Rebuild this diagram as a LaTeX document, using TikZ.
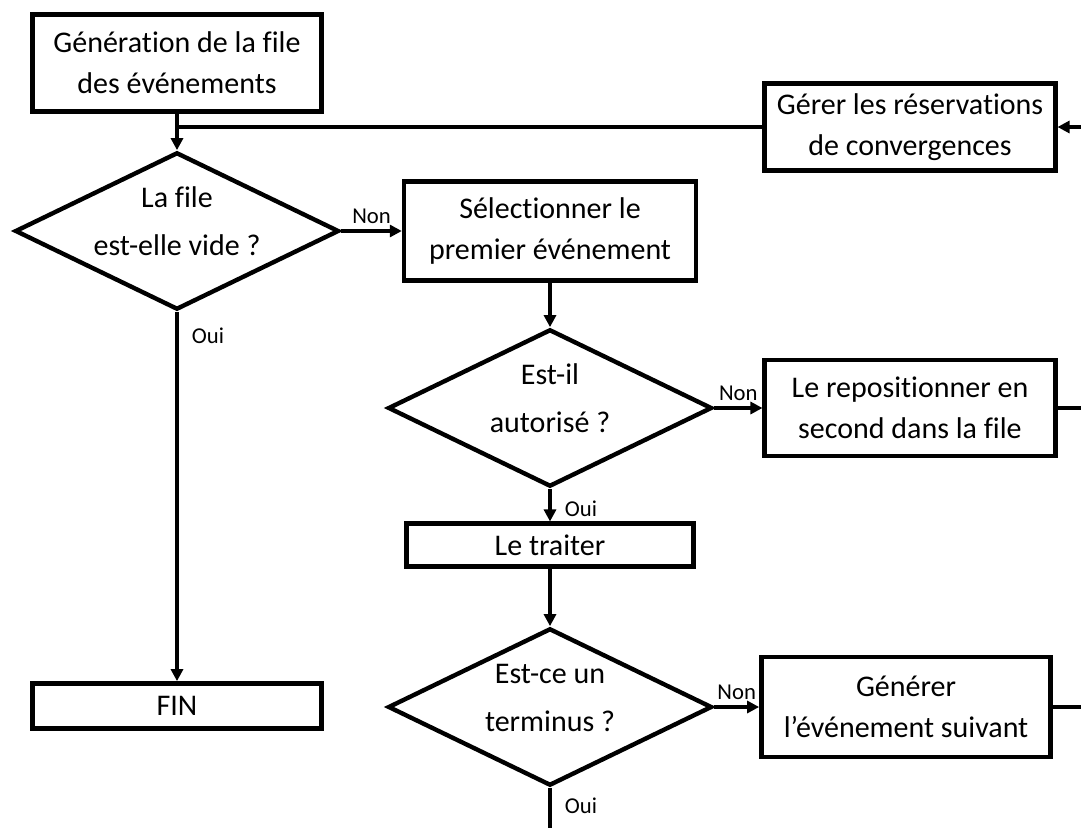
\documentclass[tikz,border=0pt]{standalone}
\usepackage{fontspec}
\setmainfont{Carlito}[Ligatures={NoCommon}]
\usetikzlibrary{shapes.geometric,arrows.meta}

\begin{document}
\begin{tikzpicture}[x=0.75pt,y=-0.75pt,
	boite/.style={draw, line width=3.3pt, align=center, inner sep=0pt,
		font=\fontsize{22.5}{31}\selectfont},
	choix/.style={draw, diamond, line width=3.3pt, inner sep=0pt,
		aspect=2, minimum width=243pt, minimum height=118pt},
	choixtxt/.style={align=center, yshift=7pt,
		font=\fontsize{22.5}{36}\selectfont},
	lien/.style={line width=2.3pt},
	fleche/.style={lien, -{Triangle[length=9pt,width=9pt]}},
	lbl/.style={font=\fontsize{17}{20}\selectfont, inner sep=4pt},
	oui/.style={lbl, below right, xshift=6pt, yshift=-7pt}]
	\useasboundingbox (0,0) rectangle (1081,828);
	% boites et tests
	\node[boite, minimum width=217pt, minimum height=73pt] (gen) at (177,63) {G\'en\'eration de la file\\des \'ev\'enements};
	\node[boite, minimum width=218pt, minimum height=65pt] (gerer) at (910,127) {G\'erer les r\'eservations\\de convergences};
	\node[choix, label={[choixtxt]center:{La file\\est-elle vide ?}}] (vide) at (177,231) {};
	\node[boite, minimum width=219pt, minimum height=74pt] (select) at (550,231) {S\'electionner le\\premier \'ev\'enement};
	\node[choix, label={[choixtxt]center:{Est-il\\autoris\'e ?}}] (autor) at (550,408) {};
	\node[boite, minimum width=218pt, minimum height=72pt] (repos) at (910,408) {Le repositionner en\\second dans la file};
	\node[boite, minimum width=215pt, minimum height=32pt] (traiter) at (550,545) {Le traiter};
	\node[choix, label={[choixtxt]center:{Est-ce un\\terminus ?}}] (term) at (550,707) {};
	\node[boite, minimum width=217pt, minimum height=75pt] (suivant) at (906,707) {G\'en\'erer\\l'\'ev\'enement suivant};
	\node[boite, minimum width=217pt, minimum height=34pt] (fin) at (177,706) {FIN};
	\coordinate (bordGerer) at (1081,127);
	\coordinate (bordRepos) at (1081,408);
	\coordinate (bordSuivant) at (1081,707);
	\coordinate (basTerm) at (550,828);
	% liens
	\draw[fleche] (bordGerer) -- (gerer.east);
	\draw[lien] (gerer.west) -- (gerer.west -| gen.south);
	\draw[fleche] (gen.south) -- (vide.north);
	\draw[fleche] (vide.east) -- node[lbl, above] {Non} (select.west);
	\draw[fleche] (vide.south) node[oui] {Oui} -- (fin.north);
	\draw[fleche] (select.south) -- (autor.north);
	\draw[fleche] (autor.east) -- node[lbl, above] {Non} (repos.west);
	\draw[lien] (repos.east) -- (bordRepos);
	\draw[fleche] (autor.south) node[oui, yshift=3pt] {Oui} -- (traiter.north);
	\draw[fleche] (traiter.south) -- (term.north);
	\draw[fleche] (term.east) -- node[lbl, above] {Non} (suivant.west);
	\draw[lien] (suivant.east) -- (bordSuivant);
	\draw[lien] (term.south) node[oui, yshift=5pt] {Oui} -- (basTerm);
\end{tikzpicture}
\end{document}
